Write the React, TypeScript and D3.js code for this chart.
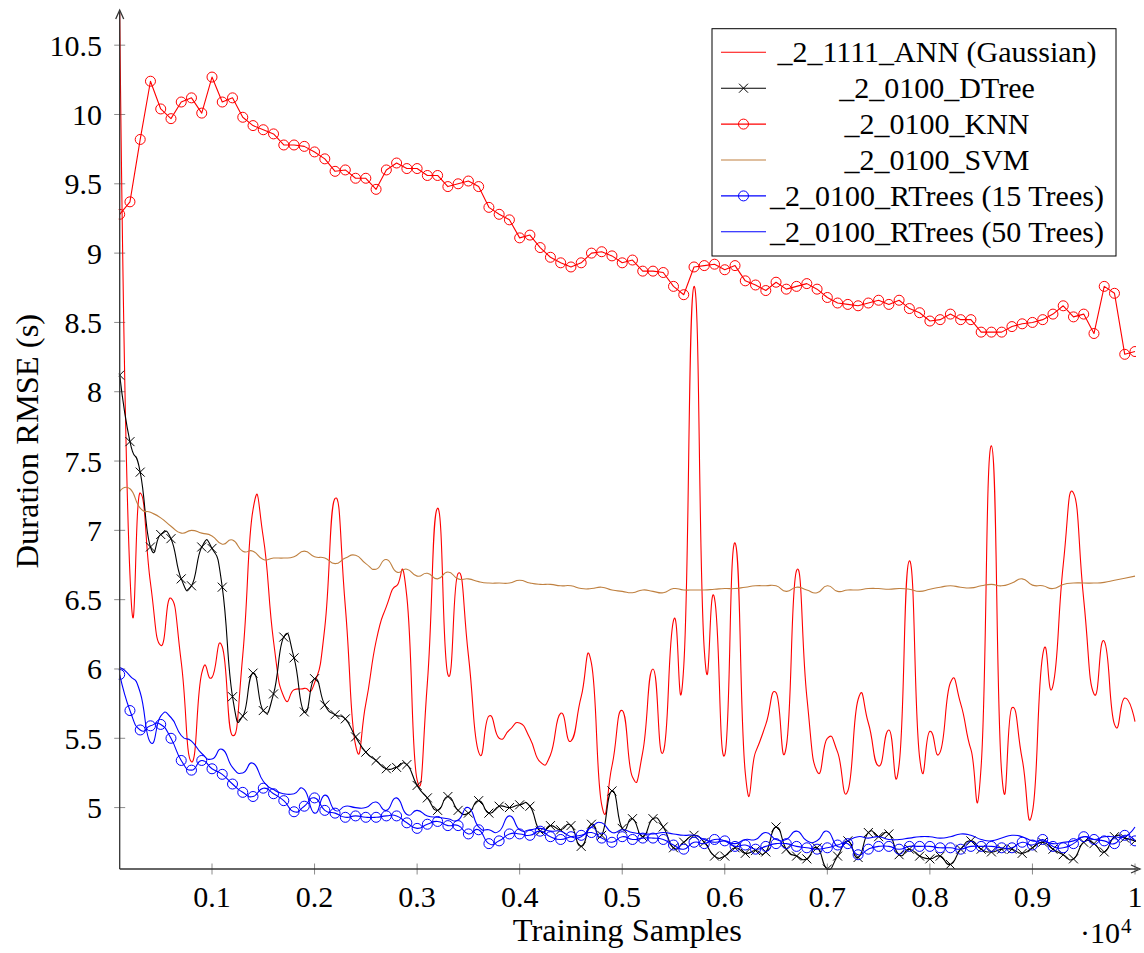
import { useEffect, useRef } from 'react';
import * as d3 from 'd3';

// training set sizes, one run every 100 samples
const samples = d3.range(100, 10001, 100);

const annGaussian = [
  10.73, 6.68, 7.27, 6.62, 6.17, 6.51, 6.05, 5.33, 5.97, 5.94,
  6.16, 5.52, 6.1, 7.15, 6.95, 6.2, 5.8, 5.85, 5.86, 5.9,
  6.3, 7.23, 6.45, 5.45, 5.75, 6.2, 6.45, 6.6, 6.52, 5.2,
  5.9, 7.16, 5.96, 6.69, 6.1, 5.4, 5.66, 5.5, 5.56, 5.61,
  5.5, 5.33, 5.38, 5.68, 5.48, 5.8, 6.04, 5.02, 5.3, 5.7,
  5.22, 5.4, 6.0, 5.4, 6.35, 6.02, 8.76, 6.14, 6.51, 5.38,
  6.91, 5.25, 5.4, 5.6, 5.83, 5.44, 6.71, 5.8, 5.26, 5.5,
  5.4, 5.12, 5.78, 5.61, 5.3, 5.56, 5.31, 6.78, 5.36, 5.55,
  5.4, 5.9, 5.75, 5.42, 5.3, 7.61, 5.25, 5.72, 5.35, 4.97,
  6.1, 5.88, 6.75, 7.27, 6.5, 5.82, 6.2, 5.6, 5.79, 5.62,
];

const dtree = [
  8.12, 7.64, 7.42, 6.88, 6.97, 6.94, 6.65, 6.6, 6.88, 6.87,
  6.59, 5.8, 5.66, 5.97, 5.7, 5.82, 6.23, 6.08, 5.69, 5.93,
  5.74, 5.67, 5.64, 5.51, 5.4, 5.34, 5.28, 5.29, 5.31, 5.16,
  5.07, 4.98, 5.08, 4.98, 4.96, 5.05, 4.96, 5.01, 5.0, 5.02,
  5.01, 4.83, 4.87, 4.84, 4.87, 4.72, 4.88, 4.8, 5.12, 4.85,
  4.92, 4.79, 4.92, 4.86, 4.71, 4.75, 4.8, 4.75, 4.65, 4.65,
  4.71, 4.67, 4.69, 4.68, 4.86, 4.7, 4.65, 4.63, 4.71, 4.557,
  4.65, 4.76, 4.64, 4.82, 4.79, 4.81, 4.66, 4.7, 4.65, 4.63,
  4.65, 4.59, 4.7, 4.76, 4.7, 4.68, 4.7, 4.7, 4.67, 4.71,
  4.75, 4.7, 4.66, 4.63, 4.75, 4.74, 4.68, 4.79, 4.78, 4.76,
];

const knn = [
  9.28, 9.37, 9.82, 10.24, 10.04, 9.97, 10.09, 10.12, 10.01, 10.27,
  10.09, 10.12, 9.98, 9.92, 9.89, 9.86, 9.78, 9.78, 9.77, 9.73,
  9.68, 9.59, 9.6, 9.54, 9.54, 9.46, 9.6, 9.65, 9.61, 9.61,
  9.56, 9.56, 9.48, 9.5, 9.52, 9.48, 9.33, 9.28, 9.24, 9.11,
  9.13, 9.04, 8.97, 8.93, 8.9, 8.93, 9.0, 9.01, 8.98, 8.93,
  8.95, 8.87, 8.87, 8.86, 8.76, 8.7, 8.9, 8.91, 8.92, 8.88,
  8.91, 8.8, 8.77, 8.73, 8.79, 8.74, 8.76, 8.78, 8.74, 8.68,
  8.64, 8.63, 8.62, 8.64, 8.66, 8.63, 8.66, 8.6, 8.57, 8.51,
  8.52, 8.56, 8.52, 8.52, 8.43, 8.43, 8.43, 8.47, 8.49, 8.5,
  8.52, 8.56, 8.62, 8.54, 8.56, 8.42, 8.76, 8.71, 8.27, 8.29,
];

const svm = [
  7.28, 7.3, 7.16, 7.13, 7.09, 7.03, 6.98, 7.0, 6.98, 6.96,
  6.9, 6.93, 6.85, 6.85, 6.79, 6.8, 6.8, 6.81, 6.85, 6.81,
  6.8, 6.76, 6.8, 6.82, 6.76, 6.72, 6.79, 6.7, 6.72, 6.67,
  6.69, 6.65, 6.7, 6.65, 6.65, 6.63, 6.62, 6.62, 6.62, 6.64,
  6.62, 6.61, 6.61, 6.6, 6.6, 6.58, 6.58, 6.59, 6.57, 6.56,
  6.55, 6.57, 6.56, 6.55, 6.58, 6.57, 6.57, 6.57, 6.575, 6.58,
  6.58, 6.59, 6.6, 6.6, 6.6, 6.56, 6.59, 6.57, 6.55, 6.6,
  6.56, 6.57, 6.57, 6.58, 6.58, 6.575, 6.58, 6.575, 6.56, 6.575,
  6.59, 6.6, 6.59, 6.585, 6.6, 6.61, 6.6, 6.62, 6.65, 6.605,
  6.6, 6.58, 6.61, 6.62, 6.62, 6.62, 6.625, 6.64, 6.655, 6.67,
];

const rtrees15 = [
  5.96, 5.7, 5.56, 5.59, 5.6, 5.5, 5.34, 5.27, 5.34, 5.28,
  5.24, 5.17, 5.11, 5.08, 5.14, 5.1, 5.05, 4.97, 5.01, 5.07,
  4.98, 4.96, 4.93, 4.94, 4.93, 4.93, 4.94, 4.94, 4.89, 4.85,
  4.88, 4.9, 4.87, 4.87, 4.81, 4.84, 4.74, 4.76, 4.81, 4.81,
  4.8, 4.83, 4.79, 4.77, 4.79, 4.8, 4.82, 4.78, 4.75, 4.79,
  4.77, 4.78, 4.78, 4.77, 4.73, 4.7, 4.75, 4.74, 4.77, 4.76,
  4.72, 4.73, 4.7, 4.72, 4.74, 4.74, 4.72, 4.71, 4.7, 4.71,
  4.73, 4.74, 4.66, 4.7, 4.72, 4.72, 4.7, 4.72, 4.72, 4.72,
  4.71, 4.71, 4.7, 4.72, 4.72, 4.72, 4.71, 4.71, 4.75, 4.73,
  4.77, 4.72, 4.71, 4.74, 4.79, 4.77, 4.76, 4.74, 4.8, 4.76,
];

const rtrees50 = [
  6.01, 5.95, 5.83, 5.47, 5.66, 5.65, 5.52, 5.48, 5.39, 5.35,
  5.42, 5.29, 5.25, 5.32, 5.19, 5.13, 5.1, 5.1, 5.13, 4.96,
  5.09, 4.98, 5.01, 5.0, 5.0, 5.04, 4.98, 5.07, 4.95, 4.98,
  4.94, 4.93, 4.92, 4.91, 5.0, 4.86, 4.84, 4.83, 4.94, 4.84,
  4.84, 4.85, 4.83, 4.83, 4.79, 4.79, 4.86, 4.89, 4.82, 4.84,
  4.82, 4.81, 4.81, 4.82, 4.81, 4.8, 4.8, 4.77, 4.75, 4.76,
  4.74, 4.77, 4.77, 4.82, 4.77, 4.77, 4.83, 4.76, 4.76, 4.83,
  4.72, 4.76, 4.79, 4.78, 4.79, 4.77, 4.77, 4.78, 4.79, 4.79,
  4.78, 4.79, 4.81, 4.8, 4.77, 4.76, 4.78, 4.8, 4.79, 4.76,
  4.76, 4.74, 4.75, 4.76, 4.79, 4.77, 4.79, 4.79, 4.79, 4.86,
];

const yTicks = [5, 5.5, 6, 6.5, 7, 7.5, 8, 8.5, 9, 9.5, 10, 10.5];
const xTicks = [1000, 2000, 3000, 4000, 5000, 6000, 7000, 8000, 9000, 10000];
const xTickLabels = ['0.1', '0.2', '0.3', '0.4', '0.5', '0.6', '0.7', '0.8', '0.9', '1'];

const seriesList = [
  { label: '_2_1111_ANN (Gaussian)', values: annGaussian, color: '#ff0000', mark: 'none', smooth: true },
  { label: '_2_0100_DTree', values: dtree, color: '#000000', mark: 'x', smooth: true },
  { label: '_2_0100_KNN', values: knn, color: '#ff0000', mark: 'o', smooth: false },
  { label: '_2_0100_SVM', values: svm, color: '#bf8040', mark: 'none', smooth: true },
  { label: '_2_0100_RTrees (15 Trees)', values: rtrees15, color: '#0000ff', mark: 'o', smooth: true },
  { label: '_2_0100_RTrees (50 Trees)', values: rtrees50, color: '#0000ff', mark: 'none', smooth: true },
];

const FONT = 'Liberation Serif, Times New Roman, Times, Tinos, DejaVu Serif, serif';

function drawMark(g, type, cx, cy, color) {
  if (type === 'o') {
    g.append('circle')
      .attr('cx', cx).attr('cy', cy).attr('r', 5)
      .attr('fill', 'none').attr('stroke', color).attr('stroke-width', 1);
  } else if (type === 'x') {
    const s = 4.5;
    g.append('path')
      .attr('d', `M${cx - s},${cy - s}L${cx + s},${cy + s}M${cx - s},${cy + s}L${cx + s},${cy - s}`)
      .attr('stroke', color).attr('stroke-width', 1).attr('fill', 'none');
  }
}

export default function App() {
  const svgRef = useRef(null);

  useEffect(() => {
    const left = 119.7, right = 1135, top = 13.3, bottom = 869;

    const svg = d3.select(svgRef.current);
    svg.selectAll('*').remove();
    svg.style('font-family', FONT);

    const x = d3.scaleLinear().domain([100, 10000]).range([left, right]);
    const allValues = seriesList.flatMap(s => s.values);
    const y = d3.scaleLinear()
      .domain([d3.min(allValues), d3.max(allValues)])
      .range([bottom, top]);

    svg.append('defs').append('clipPath').attr('id', 'plot-clip')
      .append('rect')
      .attr('x', left - 1).attr('y', top - 1)
      .attr('width', right - left + 2).attr('height', bottom - top + 2);

    // ticks, crossing the axis lines
    const tickColor = '#8c8c8c';
    yTicks.forEach(t => {
      svg.append('line')
        .attr('x1', left - 5.5).attr('x2', left + 5.5)
        .attr('y1', y(t)).attr('y2', y(t))
        .attr('stroke', tickColor).attr('stroke-width', 1);
      svg.append('text')
        .attr('x', 102).attr('y', y(t) + 10.5)
        .attr('text-anchor', 'end')
        .style('font-family', FONT).attr('font-size', 30)
        .text(String(t));
    });
    xTicks.forEach((t, i) => {
      svg.append('line')
        .attr('x1', x(t)).attr('x2', x(t))
        .attr('y1', bottom - 5.5).attr('y2', bottom + 5.5)
        .attr('stroke', tickColor).attr('stroke-width', 1);
      svg.append('text')
        .attr('x', x(t)).attr('y', 907)
        .attr('text-anchor', 'middle')
        .style('font-family', FONT).attr('font-size', 30)
        .text(xTickLabels[i]);
    });

    // series
    const plot = svg.append('g').attr('clip-path', 'url(#plot-clip)');
    seriesList.forEach(series => {
      const line = d3.line()
        .x((d, i) => x(samples[i]))
        .y(d => y(d))
        .curve(series.smooth ? d3.curveCardinal.tension(-0.665) : d3.curveLinear);
      plot.append('path')
        .datum(series.values)
        .attr('fill', 'none')
        .attr('stroke', series.color)
        .attr('stroke-width', 1.1)
        .attr('stroke-linejoin', 'round')
        .attr('d', line);
      if (series.mark !== 'none') {
        series.values.forEach((v, i) => drawMark(plot, series.mark, x(samples[i]), y(v), series.color));
      }
    });

    // axis lines with arrow heads
    const axisColor = '#333';
    svg.append('line')
      .attr('x1', left).attr('y1', bottom).attr('x2', left).attr('y2', 12)
      .attr('stroke', axisColor).attr('stroke-width', 1.3);
    svg.append('path')
      .attr('d', `M${left - 4},${19} L${left},${10} L${left + 4},${19}`)
      .attr('fill', 'none').attr('stroke', axisColor).attr('stroke-width', 1.3);
    svg.append('line')
      .attr('x1', left).attr('y1', bottom).attr('x2', 1138).attr('y2', bottom)
      .attr('stroke', axisColor).attr('stroke-width', 1.3);
    svg.append('path')
      .attr('d', `M${1131},${bottom - 4} L${1140},${bottom} L${1131},${bottom + 4}`)
      .attr('fill', 'none').attr('stroke', axisColor).attr('stroke-width', 1.3);

    // axis labels
    svg.append('text')
      .attr('x', (left + right) / 2).attr('y', 941)
      .attr('text-anchor', 'middle')
      .style('font-family', FONT).attr('font-size', 32.5)
      .text('Training Samples');
    svg.append('text')
      .attr('transform', `translate(38,${(top + bottom) / 2}) rotate(-90)`)
      .attr('text-anchor', 'middle')
      .style('font-family', FONT).attr('font-size', 32.5)
      .text('Duration RMSE (s)');
    svg.append('text')
      .attr('x', 1120).attr('y', 943)
      .attr('text-anchor', 'end')
      .style('font-family', FONT).attr('font-size', 30)
      .text('\u00b710');
    svg.append('text')
      .attr('x', 1121).attr('y', 933)
      .style('font-family', FONT).attr('font-size', 21)
      .text('4');

    // legend
    const lg = svg.append('g');
    lg.append('rect')
      .attr('x', 712).attr('y', 28.7)
      .attr('width', 404).attr('height', 227.3)
      .attr('fill', '#ffffff').attr('stroke', '#000').attr('stroke-width', 1);
    seriesList.forEach((series, i) => {
      const cy = 52.3 + i * 35.9;
      lg.append('line')
        .attr('x1', 721).attr('x2', 766).attr('y1', cy).attr('y2', cy)
        .attr('stroke', series.color).attr('stroke-width', 1.1);
      if (series.mark !== 'none') drawMark(lg, series.mark, 743.5, cy, series.color);
      lg.append('text')
        .attr('x', 937).attr('y', cy + 9.8)
        .attr('text-anchor', 'middle')
        .style('font-family', FONT).attr('font-size', 30)
        .text(series.label);
    });
  }, []);

  return (
    <svg
      ref={svgRef}
      width={1144}
      height={953}
      style={{ position: 'absolute', left: 0, top: 0, background: '#fff' }}
    />
  );
}
